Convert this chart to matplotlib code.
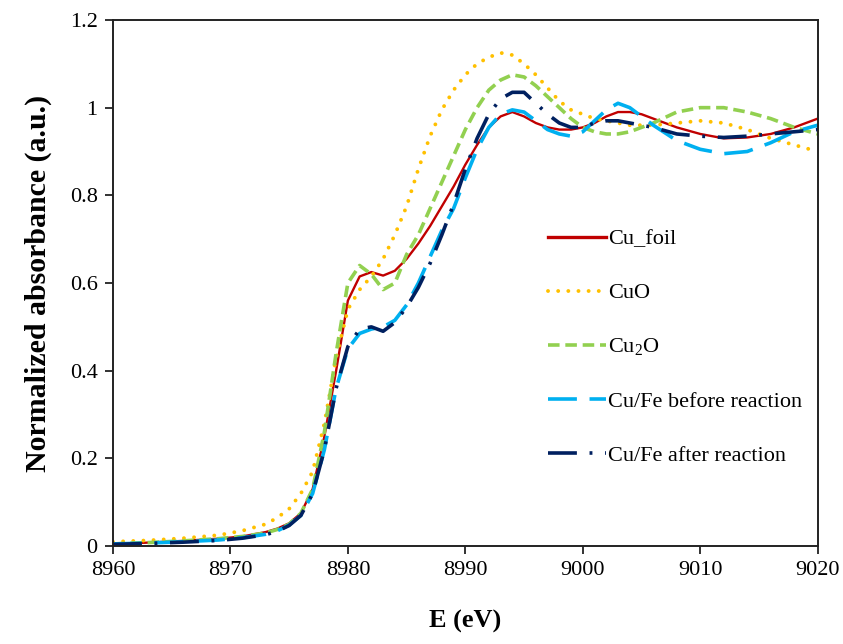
import matplotlib
matplotlib.use("Agg")
import matplotlib.pyplot as plt

# energy grid (eV)
energy = [8960, 8963, 8966, 8969, 8971, 8973, 8974, 8975, 8976, 8977, 8978, 8979,
          8980, 8981, 8982, 8983, 8984, 8985, 8986, 8987, 8988, 8989, 8990, 8991,
          8992, 8993, 8994, 8995, 8996, 8997, 8998, 8999, 9000, 9001, 9002, 9003,
          9004, 9005, 9006, 9008, 9010, 9012, 9014, 9016, 9018, 9020]

cu_foil = [0.005, 0.008, 0.012, 0.017, 0.022, 0.032, 0.040, 0.052, 0.075, 0.13, 0.25, 0.40,
           0.56, 0.615, 0.625, 0.617, 0.628, 0.655, 0.69, 0.73, 0.775, 0.82, 0.87, 0.915,
           0.955, 0.98, 0.99, 0.98, 0.965, 0.955, 0.95, 0.95, 0.955, 0.965, 0.98, 0.99,
           0.99, 0.985, 0.975, 0.955, 0.94, 0.93, 0.932, 0.94, 0.955, 0.975]

cuo = [0.010, 0.013, 0.018, 0.025, 0.035, 0.050, 0.065, 0.085, 0.12, 0.17, 0.28, 0.43,
       0.54, 0.585, 0.615, 0.655, 0.71, 0.775, 0.86, 0.935, 0.995, 1.04, 1.075, 1.10,
       1.115, 1.125, 1.12, 1.10, 1.075, 1.045, 1.015, 0.995, 0.985, 0.975, 0.97, 0.965,
       0.96, 0.96, 0.96, 0.965, 0.97, 0.965, 0.95, 0.93, 0.915, 0.90]

cu2o = [0.005, 0.008, 0.012, 0.017, 0.022, 0.030, 0.038, 0.050, 0.075, 0.13, 0.26, 0.44,
        0.60, 0.64, 0.62, 0.585, 0.60, 0.665, 0.71, 0.77, 0.83, 0.89, 0.95, 1.0,
        1.04, 1.063, 1.075, 1.07, 1.05, 1.025, 1.0, 0.975, 0.955, 0.945, 0.94, 0.94,
        0.945, 0.955, 0.965, 0.99, 1.0, 1.0, 0.99, 0.975, 0.955, 0.94]

before = [0.005, 0.007, 0.010, 0.014, 0.019, 0.027, 0.035, 0.048, 0.07, 0.12, 0.22, 0.36,
          0.45, 0.485, 0.495, 0.50, 0.515, 0.55, 0.60, 0.66, 0.72, 0.77, 0.84, 0.905,
          0.955, 0.985, 0.995, 0.99, 0.97, 0.95, 0.94, 0.935, 0.945, 0.97, 0.995, 1.01,
          1.0, 0.98, 0.96, 0.925, 0.905, 0.895, 0.90, 0.92, 0.945, 0.96]

after = [0.004, 0.006, 0.009, 0.013, 0.018, 0.026, 0.034, 0.047, 0.07, 0.12, 0.22, 0.36,
         0.455, 0.495, 0.50, 0.49, 0.51, 0.545, 0.59, 0.645, 0.71, 0.78, 0.86, 0.93,
         0.985, 1.02, 1.035, 1.035, 1.01, 0.985, 0.965, 0.955, 0.955, 0.965, 0.97, 0.97,
         0.965, 0.96, 0.955, 0.94, 0.935, 0.932, 0.935, 0.94, 0.945, 0.95]

plt.rcParams['font.family'] = ['Liberation Serif', 'DejaVu Serif']
plt.rcParams['mathtext.fontset'] = 'custom'
plt.rcParams['mathtext.rm'] = 'Liberation Serif'

fig = plt.figure(figsize=(8.43, 6.44), dpi=100)
ax = fig.add_axes([0.134, 0.152, 0.836, 0.817])

ax.plot(energy, cu_foil, color='#C00000', lw=1.7, label='Cu_foil')
ax.plot(energy, cuo, color='#FFC000', lw=2.8, linestyle=(0, (0.01, 2.6)),
        dash_capstyle='round', label='CuO')
ax.plot(energy, cu2o, color='#92D050', lw=2.6, linestyle=(0, (3.2, 1.6)), label='Cu$_2$O')
ax.plot(energy, before, color='#00B0F0', lw=2.6, linestyle=(0, (8, 3.5)),
        label='Cu/Fe before reaction')
ax.plot(energy, after, color='#002060', lw=2.6, linestyle=(0, (8, 3.5, 0.8, 3.5)),
        label='Cu/Fe after reaction')

ax.set_xlim(8960, 9020)
ax.set_ylim(0, 1.2)
ax.set_xticks([8960, 8970, 8980, 8990, 9000, 9010, 9020])
ax.set_yticks([0, 0.2, 0.4, 0.6, 0.8, 1.0, 1.2])
ax.set_yticklabels(['0', '0.2', '0.4', '0.6', '0.8', '1', '1.2'])
ax.tick_params(direction='out', length=6, width=1.3, labelsize=16, pad=5, color='#222222')
for sp in ax.spines.values():
    sp.set_linewidth(1.4)
    sp.set_color('#222222')

ax.set_xlabel('E (eV)', fontsize=19, fontweight='bold', labelpad=21)
ax.set_ylabel('Normalized absorbance (a.u.)', fontsize=21.5, fontweight='bold', labelpad=13)

leg = ax.legend(loc='upper left', bbox_to_anchor=(0.617, 0.603), frameon=False,
                fontsize=16, handlelength=2.6, handletextpad=0.1, labelspacing=1.5,
                borderpad=0, borderaxespad=0)
leg.get_lines()[0].set_linewidth(2.4)

fig.savefig('out.png', dpi=100, facecolor='white')
